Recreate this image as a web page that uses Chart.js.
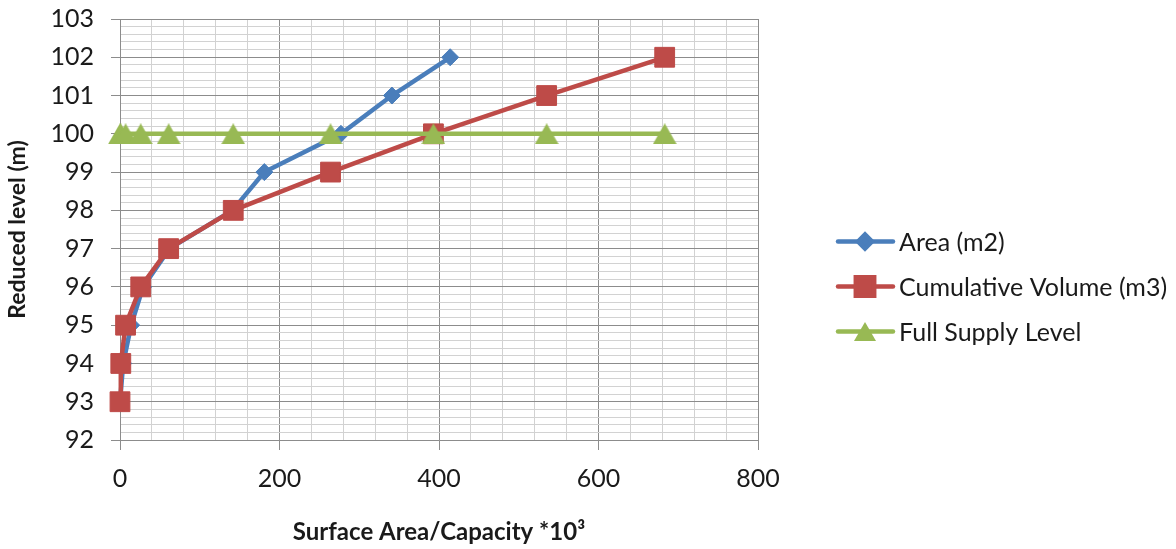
<!DOCTYPE html>
<html>
<head>
<meta charset="utf-8">
<script src="https://cdn.jsdelivr.net/npm/chart.js@4/dist/chart.umd.min.js"></script>
<style>
  html, body { margin: 0; padding: 0; background: #ffffff; }
  #wrap { width: 1176px; height: 549px; position: relative; }
</style>
</head>
<body>
<div id="wrap"><canvas id="chart" width="1176" height="549"></canvas></div>
<script>
// Reservoir level vs. surface area and cumulative storage
const levels = [93, 94, 95, 96, 97, 98, 99, 100, 101, 102];
const areaM2 = [0, 4, 14, 29, 62, 141, 181, 277, 341, 414];
const cumulativeVolumeM3 = [0, 1, 7, 26, 61, 142, 264, 393, 535, 683];
const fullSupplyLevel = [100, 100, 100, 100, 100, 100, 100, 100, 100, 100];

const seriesNames = ['Area (m2)', 'Cumulative Volume (m3)', 'Full Supply Level'];
const xTickLabels = ['0', '200', '400', '600', '800'];
const yTickLabels = ['92', '93', '94', '95', '96', '97', '98', '99', '100', '101', '102', '103'];

const FONT = 'Lato, "Open Sans", "DejaVu Sans", sans-serif';
const TEXT = '#1a1a1a';
const MAJOR = '#8c8c8c';
const MINOR = '#d2d2d2';

const BLUE = '#4a7ebb';
const RED = '#be4b48';
const GREEN = '#98b954';

const pairs = (xs, ys) => xs.map((x, i) => ({ x: x, y: ys[i] }));

const isMajorY = v => Math.abs(v - Math.round(v)) < 1e-6;
const isMajorX = v => Math.abs(v / 200 - Math.round(v / 200)) < 1e-6;

// Triangle marker centred on its bounding box
function triangleMarker(w, h, color) {
  const c = document.createElement('canvas');
  c.width = w;
  c.height = h;
  const g = c.getContext('2d');
  g.fillStyle = color;
  g.beginPath();
  g.moveTo(w / 2, 0);
  g.lineTo(w, h);
  g.lineTo(0, h);
  g.closePath();
  g.fill();
  return c;
}
const triangleBig = triangleMarker(24, 21, GREEN);
const triangleSmall = triangleMarker(22, 19, GREEN);

// Legend drawn to the right of the plot: line sample with the series marker, then the name
const sideLegend = {
  id: 'sideLegend',
  afterDraw(chart) {
    const ctx = chart.ctx;
    const rows = [241.5, 286.5, 331.5];
    const x0 = 838, x1 = 893, xm = 865, xt = 899;
    chart.data.datasets.forEach((ds, i) => {
      const y = rows[i];
      ctx.save();
      ctx.strokeStyle = ds.borderColor;
      ctx.lineWidth = ds.borderWidth;
      ctx.lineCap = 'round';
      ctx.beginPath();
      ctx.moveTo(x0, y);
      ctx.lineTo(x1, y);
      ctx.stroke();
      ctx.fillStyle = ds.pointBackgroundColor;
      ctx.strokeStyle = ds.pointBorderColor;
      Chart.helpers.drawPoint(ctx, {
        pointStyle: ds.legendStyle || ds.pointStyle,
        radius: ds.legendRadius,
        rotation: 0,
        borderWidth: ds.pointBorderWidth
      }, xm, y);
      ctx.fillStyle = TEXT;
      ctx.font = '25px ' + FONT;
      ctx.textBaseline = 'middle';
      ctx.textAlign = 'left';
      ctx.fillText(seriesNames[i], xt, y + 1);
      ctx.restore();
    });
  }
};

new Chart(document.getElementById('chart'), {
  type: 'scatter',
  data: {
    datasets: [
      {
        label: seriesNames[0],
        data: pairs(areaM2, levels),
        showLine: true,
        clip: false,
        borderColor: BLUE,
        borderWidth: 4.5,
        pointStyle: 'rectRot',
        pointRadius: 8.5,
        legendRadius: 7,
        pointBackgroundColor: BLUE,
        pointBorderColor: BLUE,
        pointBorderWidth: 1,
        order: 3
      },
      {
        label: seriesNames[1],
        data: pairs(cumulativeVolumeM3, levels),
        showLine: true,
        clip: false,
        borderColor: RED,
        borderWidth: 4.5,
        pointStyle: 'rect',
        pointRadius: 14,
        legendRadius: 13,
        pointBackgroundColor: RED,
        pointBorderColor: RED,
        pointBorderWidth: 1,
        order: 2
      },
      {
        label: seriesNames[2],
        data: pairs(cumulativeVolumeM3, fullSupplyLevel),
        showLine: true,
        clip: false,
        borderColor: GREEN,
        borderWidth: 4.5,
        pointStyle: triangleBig,
        legendStyle: triangleSmall,
        pointRadius: 12,
        legendRadius: 11,
        pointBackgroundColor: GREEN,
        pointBorderColor: GREEN,
        pointBorderWidth: 1,
        order: 1
      }
    ]
  },
  options: {
    responsive: false,
    animation: false,
    events: [],
    layout: { padding: { left: 0, top: 19, right: 418, bottom: 0 } },
    plugins: {
      legend: { display: false },
      tooltip: { enabled: false }
    },
    scales: {
      x: {
        type: 'linear',
        min: 0,
        max: 800,
        afterFit: s => { s.height = 109; },
        border: { display: true, color: MAJOR, width: 1 },
        grid: {
          color: c => isMajorX(c.tick.value) ? MAJOR : MINOR,
          tickColor: c => isMajorX(c.tick.value) ? MAJOR : 'rgba(0,0,0,0)',
          tickLength: 10,
          lineWidth: 1
        },
        ticks: {
          stepSize: 40,
          autoSkip: false,
          maxRotation: 0,
          padding: 14,
          color: TEXT,
          font: { family: FONT, size: 25 },
          callback: v => isMajorX(v) ? xTickLabels[Math.round(v / 200)] : ''
        },
        title: {
          display: true,
          text: 'Surface Area/Capacity *10³',
          color: TEXT,
          font: { family: FONT, size: 24, weight: 'bold' },
          padding: { top: 0, bottom: 2 }
        }
      },
      y: {
        type: 'linear',
        min: 92,
        max: 103,
        afterFit: s => {
          s.width = 120;
          s.paddingTop = 0;
          s.paddingBottom = 0;
        },
        border: { display: true, color: MAJOR, width: 1 },
        grid: {
          color: c => isMajorY(c.tick.value) ? MAJOR : MINOR,
          tickColor: c => isMajorY(c.tick.value) ? MAJOR : 'rgba(0,0,0,0)',
          tickLength: 9,
          lineWidth: 1
        },
        ticks: {
          stepSize: 0.2,
          autoSkip: false,
          padding: 17,
          color: TEXT,
          font: { family: FONT, size: 25 },
          callback: v => isMajorY(v) ? yTickLabels[Math.round(v) - 92] : ''
        },
        title: {
          display: true,
          text: 'Reduced level (m)',
          color: TEXT,
          font: { family: FONT, size: 23, weight: 'bold' },
          padding: { top: 4, bottom: 0 }
        }
      }
    }
  },
  plugins: [sideLegend]
});
</script>
</body>
</html>
